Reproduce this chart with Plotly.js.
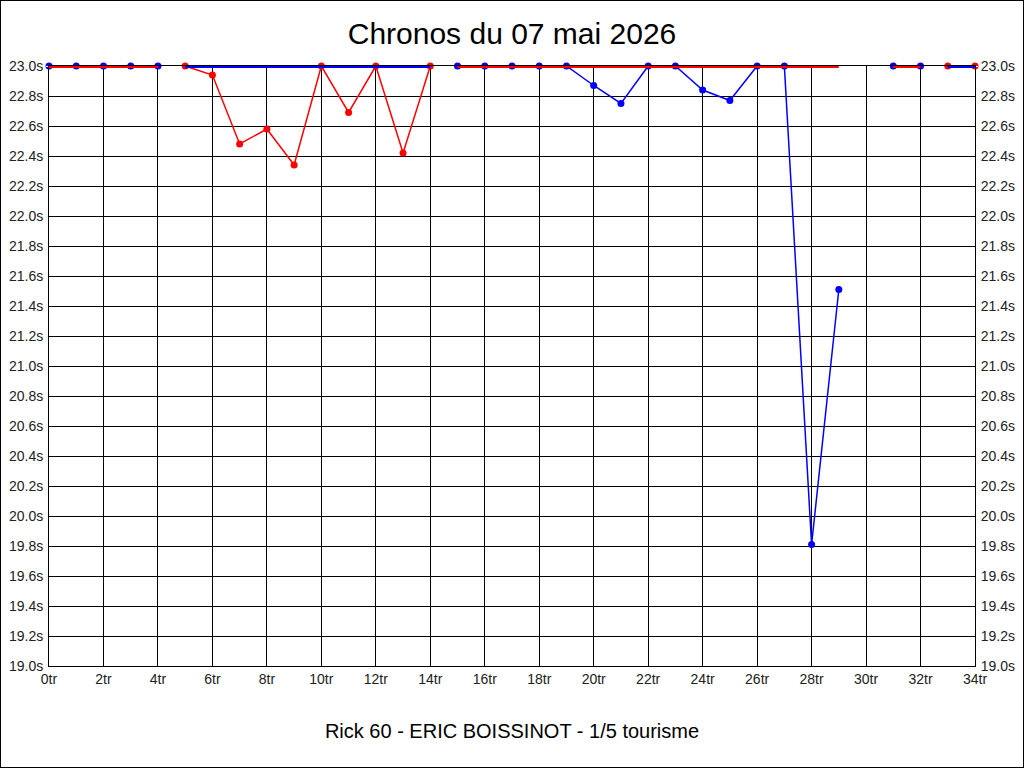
<!DOCTYPE html>
<html>
<head>
<meta charset="utf-8">
<script src="https://cdn.plot.ly/plotly-3.0.1.min.js"></script>
<style>
  body { margin: 0; background: #fff; }
  #chart { width: 1022px; height: 766px; border: 1px solid #000; }
</style>
</head>
<body>
<div id="chart"></div>
<script>
// tours 0..34
const laps = [0, 1, 2, 3, 4, 5, 6, 7, 8, 9, 10, 11, 12, 13, 14, 15, 16, 17,
  18, 19, 20, 21, 22, 23, 24, 25, 26, 27, 28, 29, 30, 31, 32, 33, 34];

// chronos rouges (en secondes)
const redTimes = [null, null, null, null, null,
  23.0, 22.94, 22.48, 22.58, 22.34, 23.0, 22.69, 23.0, 22.42, 23.0,
  null, null, null, null, null, null, null, null, null, null, null, null, null, null, null,
  null, null, null, 23.0, 23.0];

// chronos bleus (en secondes)
const blueTimes = [23.0, 23.0, 23.0, 23.0, 23.0,
  null, null, null, null, null, null, null, null, null, null,
  23.0, 23.0, 23.0, 23.0, 23.0, 22.87, 22.75, 23.0, 23.0, 22.84, 22.77, 23.0, 23.0, 19.81, 21.51,
  null, 23.0, 23.0, null, null];

// tours hors echelle, traces au plafond de 23.0s
const redCapped = [23.0, 23.0, 23.0, 23.0, 23.0,
  null, null, null, null, null, null, null, null, null, null,
  23.0, 23.0, 23.0, 23.0, 23.0, 23.0, 23.0, 23.0, 23.0, 23.0, 23.0, 23.0, 23.0, 23.0, 23.0,
  null, 23.0, 23.0, null, null];

const blueCapped = [null, null, null, null, null,
  23.0, 23.0, 23.0, 23.0, 23.0, 23.0, 23.0, 23.0, 23.0, 23.0,
  null, null, null, null, null, null, null, null, null, null, null, null, null, null, null,
  null, null, null, 23.0, 23.0];

const yMin = 19.0, yMax = 23.0;

var data = [
  {
    x: laps, y: redTimes, type: "scatter", mode: "lines+markers",
    line: { color: "#ff0000", width: 1.5 },
    marker: { color: "#ff0000", size: 7 },
    cliponaxis: false, hoverinfo: "skip"
  },
  {
    x: laps, y: blueTimes, type: "scatter", mode: "lines+markers",
    line: { color: "#0000ff", width: 1.5 },
    marker: { color: "#0000ff", size: 7 },
    cliponaxis: false, hoverinfo: "skip"
  },
  {
    x: laps, y: redCapped, type: "scatter", mode: "lines", yaxis: "y2",
    line: { color: "#ff0000", width: 4 },
    cliponaxis: false, hoverinfo: "skip"
  },
  {
    x: laps, y: blueCapped, type: "scatter", mode: "lines", yaxis: "y2",
    line: { color: "#0000ff", width: 4 },
    cliponaxis: false, hoverinfo: "skip"
  }
];

var tickFont = { family: "Liberation Sans, Arial", size: 14, color: "#222" };

var layout = {
  width: 1022,
  height: 766,
  margin: { l: 48, r: 48, t: 65, b: 101 },
  paper_bgcolor: "#fff",
  plot_bgcolor: "#fff",
  showlegend: false,
  title: {
    text: "Chronos du 07 mai 2026",
    font: { family: "Liberation Sans, Arial", size: 30, color: "#000" },
    x: 0.5, xanchor: "center", y: 0.957, yanchor: "middle"
  },
  xaxis: {
    range: [0, 34],
    dtick: 2, tick0: 0,
    ticksuffix: "tr",
    showgrid: true, gridcolor: "#000", gridwidth: 1,
    zeroline: false,
    showline: true, linecolor: "#000", linewidth: 1, mirror: true,
    ticks: "", ticklen: 0,
    tickfont: tickFont,
    title: {
      text: "Rick 60 - ERIC BOISSINOT - 1/5 tourisme",
      font: { family: "Liberation Sans, Arial", size: 20, color: "#000" },
      standoff: 38
    }
  },
  yaxis: {
    range: [yMin, yMax],
    dtick: 0.2, tick0: 19,
    tickformat: ".1f",
    ticksuffix: "s",
    showgrid: true, gridcolor: "#000", gridwidth: 1,
    zeroline: false,
    showline: true, linecolor: "#000", linewidth: 1,
    ticks: "outside", ticklen: 2, tickcolor: "#fff",
    tickfont: tickFont
  },
  yaxis2: {
    range: [yMin, yMax],
    overlaying: "y", side: "right",
    dtick: 0.2, tick0: 19,
    tickformat: ".1f",
    ticksuffix: "s",
    showgrid: false, zeroline: false,
    showline: true, linecolor: "#000", linewidth: 1,
    ticks: "outside", ticklen: 2, tickcolor: "#fff",
    tickfont: tickFont
  }
};

Plotly.newPlot("chart", data, layout, { displayModeBar: false, staticPlot: true });
</script>
</body>
</html>
